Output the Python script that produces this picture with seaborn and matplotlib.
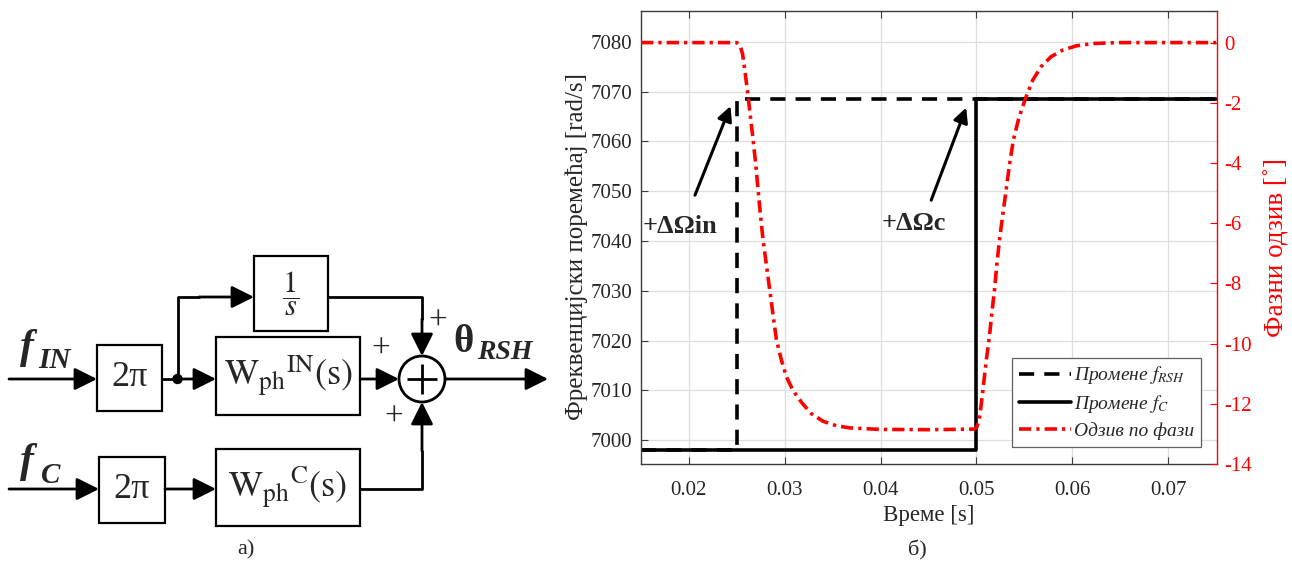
import numpy as np
import pandas as pd
import seaborn as sns
import matplotlib
matplotlib.use('Agg')
import matplotlib.pyplot as plt
from matplotlib.patches import Rectangle, Circle

# data
t_rsh = [0.015, 0.025, 0.075]
f_rsh = [6998.0, 7068.6, 7068.6]
t_c = [0.015, 0.050, 0.075]
f_c = [6998.0, 7068.6, 7068.6]
t_phase = [0.015, 0.0250, 0.02531, 0.02559, 0.02583, 0.02601, 0.02618, 0.02642, 0.02670,
           0.02698, 0.02722, 0.02747, 0.02774, 0.02809, 0.02844, 0.02878, 0.02914,
           0.02966, 0.03018, 0.03087, 0.03174, 0.03278, 0.03399, 0.03539, 0.03677,
           0.03990, 0.04510, 0.04979, 0.05003, 0.05031, 0.05059, 0.05083, 0.05107,
           0.05135, 0.05160, 0.05188, 0.05212, 0.05240, 0.05274, 0.05309, 0.05344,
           0.05385, 0.05441, 0.05518, 0.05587, 0.05674, 0.05778, 0.05899, 0.06039,
           0.06212, 0.0649, 0.075]
phase = [0.0, 0.0, -0.08, -0.36, -0.91, -1.36, -1.80, -2.47, -3.24,
         -4.07, -4.91, -5.74, -6.57, -7.40, -8.23, -9.06, -9.89,
         -10.56, -11.11, -11.56, -11.95, -12.33, -12.58, -12.73, -12.80,
         -12.85, -12.86, -12.84, -12.78, -12.50, -11.78, -11.11, -10.45,
         -9.78, -9.01, -8.23, -7.40, -6.57, -5.74, -4.91, -4.07,
         -3.24, -2.52, -1.80, -1.25, -0.80, -0.47, -0.25, -0.11,
         -0.03, 0.0, 0.0]
x_ticks = [0.02, 0.03, 0.04, 0.05, 0.06, 0.07]
y_ticks = [7000, 7010, 7020, 7030, 7040, 7050, 7060, 7070, 7080]
y2_ticks = [-14, -12, -10, -8, -6, -4, -2, 0]
labels = ['Промене $f_{RSH}$', 'Промене $f_{C}$', 'Одзив по фази']

sns.set_style('ticks')
plt.rcParams['font.family'] = ['Liberation Serif', 'DejaVu Serif']
plt.rcParams['mathtext.fontset'] = 'stix'
plt.rcParams['axes.unicode_minus'] = False

fig = plt.figure(figsize=(12.92, 5.62), dpi=100)
W, H = 1292, 562

# ---------------- block diagram (pixel coordinates) ----------------
axd = fig.add_axes([0, 0, 560 / W, 1])
axd.set_xlim(0, 560)
axd.set_ylim(562, 0)
axd.axis('off')

def box(x0, y0, x1, y1):
    axd.add_patch(Rectangle((x0, y0), x1 - x0, y1 - y0, fill=False, lw=1.6, ec='k'))

def arrow(p0, p1):
    axd.annotate('', xy=p1, xytext=p0,
                 arrowprops=dict(arrowstyle='-|>', mutation_scale=34, lw=2.0,
                                 color='k', shrinkA=0, shrinkB=0))

def line(xs, ys):
    axd.plot(xs, ys, color='k', lw=2.0, solid_capstyle='butt')

box(97, 345, 162, 411)
box(99, 457, 165, 523)
box(216, 337, 360, 415)
box(216, 449, 360, 526)
box(254, 256, 328, 331)
axd.add_patch(Circle((422, 379), 23, fill=False, lw=2.0, ec='k'))
line([407, 437], [379, 379])
line([422, 422], [364, 394])
axd.add_patch(Circle((177.5, 379), 4.5, color='k'))

arrow((9, 379), (97, 379))
line([162, 178], [379, 379])
arrow((177, 379), (216, 379))
line([177.5, 177.5, 200], [379, 297, 297])
arrow((199, 297), (254, 297))
line([328, 422, 422], [297, 297, 320])
arrow((422, 319), (422, 356))
arrow((360, 379), (399, 379))
line([360, 422, 422], [489, 489, 450])
arrow((422, 451), (422, 402))
arrow((445, 379), (548, 379))
arrow((9, 489), (99, 489))
arrow((165, 489), (216, 489))

axd.text(129.5, 378, '2π', fontsize=26, ha='center', va='center')
axd.text(132, 490, '2π', fontsize=26, ha='center', va='center')
axd.text(288, 376, r'$\mathrm{W}_{\mathrm{ph}}{}^{\mathrm{IN}}\mathrm{(s)}$', fontsize=26,
         ha='center', va='center')
axd.text(288, 487, r'$\mathrm{W}_{\mathrm{ph}}{}^{\mathrm{C}}\mathrm{(s)}$', fontsize=26,
         ha='center', va='center')
axd.text(291, 294, r'$\dfrac{1}{s}$', fontsize=22, ha='center', va='center')
bi = dict(fontweight='bold', fontstyle='italic', va='baseline', ha='left')
axd.text(20, 358, 'f', fontsize=30, **bi)
axd.text(38, 368, 'IN', fontsize=21, **bi)
axd.text(20, 472, 'f', fontsize=30, **bi)
axd.text(41, 483, 'C', fontsize=21, **bi)
axd.text(453, 352, 'θ', fontsize=28, fontweight='bold', va='baseline', ha='left')
axd.text(477, 359, 'RSH', fontsize=20, **bi)
axd.text(438, 322, '+', fontsize=24, ha='center', va='center')
axd.text(381, 350, '+', fontsize=24, ha='center', va='center')
axd.text(394, 418, '+', fontsize=24, ha='center', va='center')
axd.text(246, 550, 'а)', fontsize=16, ha='center', va='center')

# ---------------- time response chart ----------------
left, right, top, bottom = 641, 1217, 11, 464
ax = fig.add_axes([left / W, 1 - bottom / H, (right - left) / W, (bottom - top) / H])
ax2 = ax.twinx()

df_rsh = pd.DataFrame({'t': t_rsh, 'f': f_rsh})
df_c = pd.DataFrame({'t': t_c, 'f': f_c})
df_ph = pd.DataFrame({'t': t_phase, 'p': phase})

sns.lineplot(data=df_rsh, x='t', y='f', ax=ax, color='k', lw=2.6,
             linestyle=(0, (4.2, 2.8)), drawstyle='steps-post', label=labels[0])
sns.lineplot(data=df_c, x='t', y='f', ax=ax, color='k', lw=2.6,
             drawstyle='steps-post', label=labels[1])
sns.lineplot(data=df_ph, x='t', y='p', ax=ax2, color='red', lw=2.6,
             linestyle=(0, (3.4, 1.4, 0.9, 1.4)), label=labels[2])
for a in (ax, ax2):
    if a.get_legend() is not None:
        a.get_legend().remove()

ax.set_xlim(0.015, 0.0751)
ax.set_ylim(6995.2, 7086.2)
ax2.set_ylim(-14.0, 1.05)
ax.set_xticks(x_ticks)
ax.set_xticklabels([f'{v:.2f}' for v in x_ticks])
ax.set_yticks(y_ticks)
ax2.set_yticks(y2_ticks)

ax.set_axisbelow(True)
ax.grid(True, color='#dedede', lw=0.9)
spine_col = '#3c3c3c'
for s in ('left', 'bottom', 'top'):
    ax.spines[s].set_color(spine_col)
    ax.spines[s].set_linewidth(1.0)
ax.spines['right'].set_visible(False)
for s in ('left', 'bottom', 'top'):
    ax2.spines[s].set_visible(False)
ax2.spines['right'].set_color('red')
ax2.spines['right'].set_linewidth(1.0)

ax.tick_params(axis='both', direction='in', length=5, width=0.8, color=spine_col,
               labelsize=15, top=True, right=False)
ax.tick_params(axis='x', pad=12)
ax.tick_params(axis='y', pad=6)
ax2.tick_params(axis='y', direction='in', length=5, width=0.8, colors='red',
                labelsize=15, pad=5)

ax.set_xlabel('Време [s]', fontsize=16.5, labelpad=4)
ax.set_ylabel('Фреквенцијски поремећај [rad/s]', fontsize=18)
ax2.set_ylabel('Фазни одзив [˚]', fontsize=19.5, color='red')
ax.yaxis.set_label_coords(-0.092, 0.481)
ax2.yaxis.set_label_coords(1.081, 0.477)

# annotations
arr = dict(arrowstyle='-|>', mutation_scale=22, lw=2.2, color='k', shrinkA=0, shrinkB=0)
ax.annotate('', xy=(0.02434, 7067.1), xytext=(0.02063, 7049.2), arrowprops=arr)
ax.annotate('', xy=(0.04893, 7066.8), xytext=(0.04528, 7048.2), arrowprops=arr)
ax.text(0.0152, 7043.0, '+ΔΩin', fontsize=19, fontweight='bold', ha='left', va='center')
ax.text(0.0401, 7043.6, '+ΔΩc', fontsize=19, fontweight='bold', ha='left', va='center')

handles = [h for h in ax.get_lines() if h.get_label() in labels] + \
          [h for h in ax2.get_lines() if h.get_label() in labels]
leg = ax2.legend(handles, labels, loc='lower right', bbox_to_anchor=(0.972, 0.038),
                 fancybox=False, framealpha=1, edgecolor='#606060',
                 prop=dict(family='Liberation Serif', style='italic', size=14),
                 handlelength=2.7, handletextpad=0.15, labelspacing=0.35,
                 borderpad=0.35, borderaxespad=0)
leg.get_frame().set_linewidth(0.9)

fig.text(917 / W, 1 - 550 / H, 'б)', fontsize=16, ha='center', va='center')

fig.savefig('out.png', dpi=100)
